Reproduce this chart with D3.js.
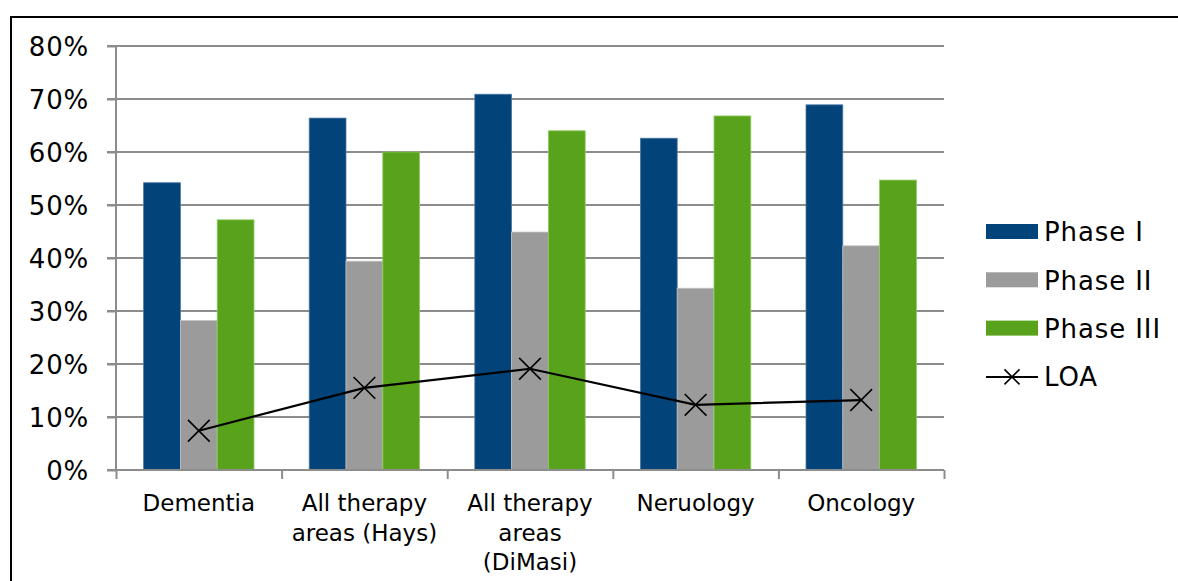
<!DOCTYPE html>
<html><head><meta charset="utf-8">
<script src="https://cdn.jsdelivr.net/npm/d3@7"></script>
<style>
html,body{margin:0;padding:0;background:#fff;}
svg{display:block;font-family:"DejaVu Sans",Verdana,sans-serif;}
</style></head>
<body>
<svg id="chart" width="1178" height="581"></svg>
<script>
const categories = [["Dementia"], ["All therapy", "areas (Hays)"], ["All therapy", "areas", "(DiMasi)"], ["Neruology"], ["Oncology"]];
const seriesNames = ["Phase I", "Phase II", "Phase III"];
const phase1 = [0.542, 0.664, 0.709, 0.626, 0.689];
const phase2 = [0.282, 0.394, 0.449, 0.343, 0.423];
const phase3 = [0.472, 0.600, 0.640, 0.668, 0.547];
const loa = [0.074, 0.155, 0.191, 0.123, 0.132];
const yTicks = [0, 0.1, 0.2, 0.3, 0.4, 0.5, 0.6, 0.7, 0.8];
const colors = ["#02437a", "#9b9b9b", "#58a31b"];
const edgeColors = ["#4f7aa3", "#c4c4c4", "#8fca5f"];

(function () {
const svg = d3.select("#chart");
const pLeft = 116, pRight = 944, pTop = 46, pBottom = 470;
const x = d3.scaleBand().domain(d3.range(categories.length)).range([pLeft, pRight]).paddingInner(0).paddingOuter(0);
const y = d3.scaleLinear().domain([0, 0.8]).range([pBottom, pTop]);
const inner = d3.scaleBand().domain(d3.range(3)).range([0, x.bandwidth()]).paddingOuter(0.75).paddingInner(0);

// outer border
svg.append("path").attr("d", `M11,600 L11,17 L1190,17`).attr("fill", "none").attr("stroke", "#000").attr("stroke-width", 2);

// gridlines
svg.append("g").selectAll("line").data(yTicks.slice(1)).join("line")
  .attr("x1", pLeft - 9).attr("x2", pRight).attr("y1", d => y(d)).attr("y2", d => y(d))
  .attr("stroke", "#8c8c8c").attr("stroke-width", 2);

// bars
const series = [phase1, phase2, phase3];
series.forEach((vals, si) => {
  svg.append("g").selectAll("rect").data(vals).join("rect")
    .attr("x", (d, i) => x(i) + inner(si))
    .attr("y", d => y(d))
    .attr("width", inner.bandwidth())
    .attr("height", d => y(0) - y(d))
    .attr("fill", colors[si])
    .attr("stroke", edgeColors[si]).attr("stroke-width", 0.8);
});

// y axis
const yAxis = d3.axisLeft(y).tickValues(yTicks).tickFormat(d3.format(".0%")).tickSize(9).tickPadding(18);
const gy = svg.append("g").attr("transform", `translate(${pLeft},0)`).call(yAxis);
gy.select(".domain").attr("stroke", "#8c8c8c").attr("stroke-width", 2).attr("d", `M-9,${pTop}H0V${pBottom}`);
gy.selectAll(".tick line").attr("stroke", "#8c8c8c").attr("stroke-width", 2);
gy.selectAll(".tick text").attr("font-size", 26).attr("letter-spacing", 0.8).attr("fill", "#000")
  .attr("font-family", "DejaVu Sans, Verdana, sans-serif").attr("dy", "0.36em");

// x axis
const xb = d3.scaleLinear().domain([0, categories.length]).range([pLeft, pRight]);
const gx = svg.append("g").attr("transform", `translate(0,${pBottom})`)
  .call(d3.axisBottom(xb).tickValues(d3.range(categories.length + 1)).tickFormat("").tickSize(9).tickSizeOuter(0));
gx.select(".domain").attr("stroke", "#8c8c8c").attr("stroke-width", 2).attr("d", `M${pLeft - 9},0H${pRight}`);
gx.selectAll(".tick line").attr("stroke", "#8c8c8c").attr("stroke-width", 2);

const labels = svg.append("g").selectAll("text").data(categories).join("text")
  .attr("x", (d, i) => x(i) + x.bandwidth() / 2)
  .attr("y", pBottom + 41)
  .attr("text-anchor", "middle").attr("font-size", 23).attr("fill", "#000");
labels.selectAll("tspan").data(d => d).join("tspan")
  .attr("x", function () { return d3.select(this.parentNode).attr("x"); })
  .attr("dy", (d, i) => i === 0 ? 0 : 29.5)
  .text(d => d);

// LOA line
const cx = i => x(i) + x.bandwidth() / 2;
svg.append("path").datum(loa)
  .attr("d", d3.line().x((d, i) => cx(i)).y(d => y(d)))
  .attr("fill", "none").attr("stroke", "#000").attr("stroke-width", 2.2);
const cross = d3.symbol().type(d3.symbolX).size(310);
svg.append("g").selectAll("path").data(loa).join("path")
  .attr("transform", (d, i) => `translate(${cx(i)},${y(d)})`)
  .attr("d", cross).attr("fill", "none").attr("stroke", "#000").attr("stroke-width", 1.6);

// legend
const lg = svg.append("g").attr("transform", "translate(986,232)");
const items = seriesNames.concat(["LOA"]);
items.forEach((name, i) => {
  const g = lg.append("g").attr("transform", `translate(0,${i * 48.3})`);
  if (i < 3) {
    g.append("rect").attr("x", 0).attr("y", -8).attr("width", 52).attr("height", 15).attr("fill", colors[i]);
  } else {
    g.append("line").attr("x1", 0).attr("x2", 52).attr("y1", 0).attr("y2", 0).attr("stroke", "#000").attr("stroke-width", 2);
    g.append("path").attr("transform", "translate(26,0)").attr("d", d3.symbol().type(d3.symbolX).size(150)).attr("fill", "none").attr("stroke", "#000").attr("stroke-width", 1.6);
  }
  g.append("text").attr("x", 58).attr("y", 0).attr("dy", "0.36em").attr("font-size", 26).attr("letter-spacing", 0.9).attr("fill", "#000").text(name);
});
})();
</script>
</body></html>
